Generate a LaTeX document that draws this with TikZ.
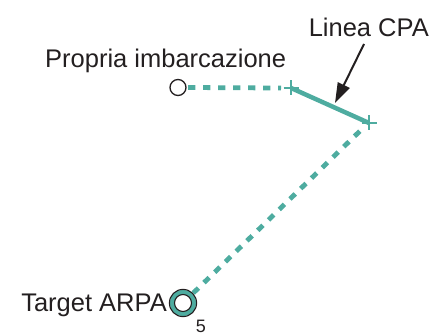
\documentclass[tikz,border=0pt]{standalone}
\usepackage{fontspec}
\setmainfont{Liberation Sans}
\usetikzlibrary{arrows.meta}
\definecolor{teal1}{RGB}{78,172,160}
\definecolor{ink}{RGB}{35,31,32}
\begin{document}
\begin{tikzpicture}[x=1pt,y=-1pt,
  lbl/.style={font=\fontsize{25.5}{28}\selectfont, inner sep=0pt, text=ink},
  dotline/.style={teal1, line width=4.8pt, dash pattern=on 7.3pt off 7.7pt},
  cpaline/.style={teal1, line width=4.5pt},
  crossmark/.style={teal1, line width=1.3pt}]
\useasboundingbox (0,0) rectangle (430,336);
% nodes
\node (own) [circle, draw=ink, fill=white, line width=1.3pt, minimum size=16pt, inner sep=0pt] at (178,87.5) {};
\node (tgt) [circle, minimum size=28pt, inner sep=0pt] at (183,303) {};
\coordinate (c1) at (291,88);
\coordinate (c2) at (369,123);
\coordinate (d1) at (281,88);
\coordinate (d2) at (361,130);
% connectors
\draw[dotline] (own.east) ++(1.5,0) -- (d1);
\draw[dotline] (tgt) -- (d2);
\draw[cpaline] (c1) -- (c2);
\draw[crossmark] (c1) ++(-7.5,0) -- ++(15,0);
\draw[crossmark] (c1) ++(0,-7.5) -- ++(0,15);
\draw[crossmark] (c2) ++(-7.5,0) -- ++(15,0);
\draw[crossmark] (c2) ++(0,-7.5) -- ++(0,15);
% target ring
\fill[white] (tgt.center) circle (9);
\draw[teal1, line width=4.5pt] (tgt.center) circle (11);
\draw[ink, line width=1.1pt] (tgt.center) circle (13.6);
\draw[ink, line width=1.1pt] (tgt.center) circle (8.5);
% labels
\node (lown) [lbl, anchor=base west] at (45,68) {Propria imbarcazione};
\node (lcpa) [lbl, anchor=base east] at (429,37) {Linea CPA};
\node (ltgt) [lbl, anchor=base east] at (167,311) {Target ARPA};
\node (l5) [font=\fontsize{18}{20}\selectfont, inner sep=0pt, text=ink, anchor=base] at (201,332.5) {5};
\coordinate (atail) at (364,44);
\coordinate (atip) at (335,103);
\draw[ink, -{Triangle[length=20pt,width=13pt]}, line width=2pt] (atail) -- (atip);
\end{tikzpicture}
\end{document}
